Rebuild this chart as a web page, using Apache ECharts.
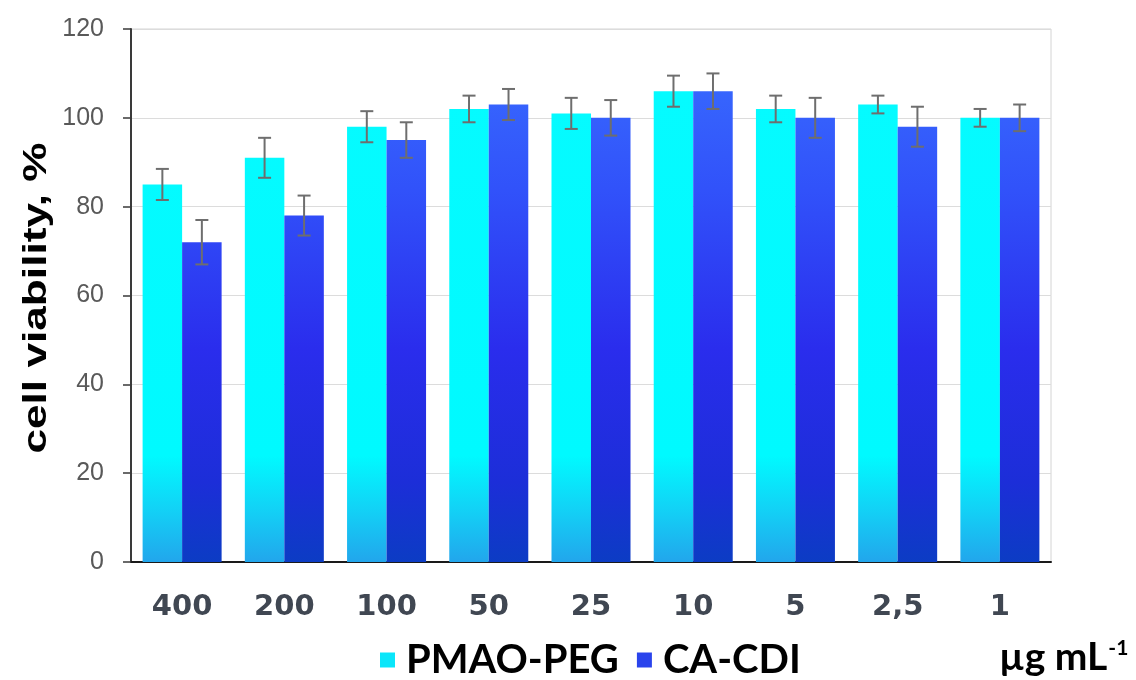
<!DOCTYPE html>
<html>
<head>
<meta charset="utf-8">
<script src="https://cdn.jsdelivr.net/npm/echarts@6/dist/echarts.min.js"></script>
<style>
  html, body { margin: 0; padding: 0; background: #ffffff; }
  #chart { width: 1136px; height: 680px; }
</style>
</head>
<body>
<div id="chart"></div>
<script>
// Concentrations (µg/mL) along the x axis
const categories = ['400', '200', '100', '50', '25', '10', '5', '2,5', '1'];

// Mean cell viability (%) and standard deviations
const pmaoPeg    = [85, 91, 98, 102, 101, 106, 102, 103, 100];
const pmaoPegErr = [3.5, 4.5, 3.5, 3, 3.5, 3.5, 3, 2, 2];
const caCdi      = [72, 78, 95, 103, 100, 106, 100, 98, 100];
const caCdiErr   = [5, 4.5, 4, 3.5, 4, 4, 4.5, 4.5, 3];

// Value axis ticks
const yMin = 0, yMax = 120, yStep = 20;

const BAR_W = 39.5;

const chart = echarts.init(document.getElementById('chart'), null, { renderer: 'canvas' });

// Gradients in plot coordinates so every bar shades the same way toward the baseline
const cyanFill = new echarts.graphic.LinearGradient(0, 30, 0, 562, [
  { offset: 0, color: '#06fbff' },
  { offset: 0.80, color: '#00faff' },
  { offset: 0.90, color: '#12d2f6' },
  { offset: 1, color: '#22a6ec' }
], true);
const blueFill = new echarts.graphic.LinearGradient(0, 30, 0, 562, [
  { offset: 0, color: '#3a70ff' },
  { offset: 0.30, color: '#3152fa' },
  { offset: 0.60, color: '#2a2ded' },
  { offset: 0.85, color: '#1c2ed8' },
  { offset: 1, color: '#0c3cc4' }
], true);

function errorData(values, errs) {
  return values.map((v, i) => [i, v - errs[i], v + errs[i]]);
}

function errorSeries(name, values, errs, offset) {
  return {
    name: name + ' SD',
    type: 'custom',
    z: 5,
    silent: true,
    encode: { x: 0, y: [1, 2] },
    data: errorData(values, errs),
    renderItem: function (params, api) {
      const i = api.value(0);
      const hi = api.coord([i, api.value(2)]);
      const lo = api.coord([i, api.value(1)]);
      const x = hi[0] + offset;
      const cap = 6.5;
      const style = { stroke: '#6e6e6e', lineWidth: 2 };
      return {
        type: 'group',
        children: [
          { type: 'line', shape: { x1: x, y1: hi[1], x2: x, y2: lo[1] }, style: style },
          { type: 'line', shape: { x1: x - cap, y1: hi[1], x2: x + cap, y2: hi[1] }, style: style },
          { type: 'line', shape: { x1: x - cap, y1: lo[1], x2: x + cap, y2: lo[1] }, style: style }
        ]
      };
    }
  };
}

const option = {
  backgroundColor: '#ffffff',
  animation: false,
  grid: {
    left: 131, right: 85, top: 29, bottom: 118,
    show: true, borderColor: '#d4d4d4', borderWidth: 1
  },
  xAxis: {
    type: 'category',
    data: categories,
    axisLine: { lineStyle: { color: '#1a1a1a', width: 2 } },
    axisTick: { show: false },
    axisLabel: {
      color: '#404752', fontFamily: 'DejaVu Sans', fontWeight: 'bold',
      fontSize: 29, margin: 31
    },
    splitLine: { show: false }
  },
  yAxis: {
    type: 'value',
    min: yMin, max: yMax, interval: yStep,
    axisLine: { show: true, lineStyle: { color: '#3a3a3a', width: 2 } },
    axisTick: { show: true, inside: false, length: 8, lineStyle: { color: '#3a3a3a', width: 1.5 } },
    axisLabel: {
      color: '#595959', fontFamily: 'Liberation Sans', fontSize: 25, margin: 27
    },
    splitLine: { show: true, lineStyle: { color: '#dcdcdc', width: 1 } }
  },
  legend: {
    left: 375, top: 635,
    icon: 'rect', itemWidth: 15, itemHeight: 15, itemGap: 18,
    textStyle: {
      color: '#000000', fontFamily: 'Lato', fontWeight: 'bold', fontSize: 40,
      padding: [0, 0, 0, 6]
    },
    data: [
      { name: 'PMAO-PEG', itemStyle: { color: '#0ae6fa' } },
      { name: 'CA-CDI', itemStyle: { color: '#2a44ec' } }
    ]
  },
  graphic: [
    {
      type: 'text',
      x: 37, y: 298,
      rotation: Math.PI / 2,
      scaleX: 1.3,
      style: {
        text: 'cell viability, %',
        fontFamily: 'Liberation Sans', fontWeight: 'bold', fontSize: 34,
        fill: '#000000', align: 'center', verticalAlign: 'middle'
      }
    },
    {
      type: 'text',
      x: 999, y: 638,
      style: {
        text: '{u|µg mL}{s|-1}',
        rich: {
          u: { fontFamily: 'Lato', fontWeight: 'bold', fontSize: 39, fill: '#000000' },
          s: { fontFamily: 'Lato', fontWeight: 'bold', fontSize: 21, fill: '#000000', verticalAlign: 'top', padding: [0, 0, 18, 1] }
        }
      }
    }
  ],
  series: [
    {
      name: 'PMAO-PEG',
      type: 'bar',
      data: pmaoPeg,
      barWidth: BAR_W,
      barGap: '0%',
      itemStyle: { color: cyanFill }
    },
    {
      name: 'CA-CDI',
      type: 'bar',
      data: caCdi,
      barWidth: BAR_W,
      barGap: '0%',
      itemStyle: { color: blueFill }
    },
    errorSeries('PMAO-PEG', pmaoPeg, pmaoPegErr, -BAR_W / 2),
    errorSeries('CA-CDI', caCdi, caCdiErr, BAR_W / 2)
  ]
};

chart.setOption(option);
</script>
</body>
</html>
